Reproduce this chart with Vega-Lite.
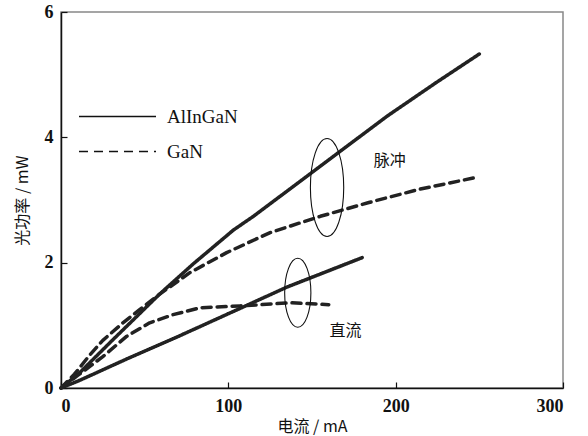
{
  "$schema": "https://vega.github.io/schema/vega-lite/v6.json",
  "width": 502,
  "height": 376,
  "autosize": "none",
  "padding": {"left": 61, "top": 12, "right": 25, "bottom": 48},
  "background": "white",
  "config": {
    "view": {"stroke": "#888", "strokeWidth": 1.5},
    "axis": {
      "grid": false,
      "domainColor": "#111",
      "domainWidth": 1.5,
      "tickColor": "#111",
      "tickWidth": 1.2,
      "tickSize": -6,
      "labelFont": "Liberation Serif",
      "labelFontSize": 18,
      "labelFontWeight": "bold",
      "labelColor": "#111",
      "titleFont": "Noto Sans CJK SC",
      "titleFontSize": 16,
      "titleFontWeight": "normal",
      "titleColor": "#111"
    }
  },
  "datasets": {
    "curves": [
      {"mode": "脉冲", "material": "AlInGaN", "I": 0, "P": 0},
      {"mode": "脉冲", "material": "AlInGaN", "I": 11, "P": 0.24},
      {"mode": "脉冲", "material": "AlInGaN", "I": 31, "P": 0.77},
      {"mode": "脉冲", "material": "AlInGaN", "I": 59, "P": 1.5},
      {"mode": "脉冲", "material": "AlInGaN", "I": 79, "P": 1.98},
      {"mode": "脉冲", "material": "AlInGaN", "I": 103, "P": 2.52},
      {"mode": "脉冲", "material": "AlInGaN", "I": 115, "P": 2.74},
      {"mode": "脉冲", "material": "AlInGaN", "I": 150, "P": 3.44},
      {"mode": "脉冲", "material": "AlInGaN", "I": 167, "P": 3.78},
      {"mode": "脉冲", "material": "AlInGaN", "I": 195, "P": 4.34},
      {"mode": "脉冲", "material": "AlInGaN", "I": 224, "P": 4.87},
      {"mode": "脉冲", "material": "AlInGaN", "I": 250, "P": 5.33},
      {"mode": "脉冲", "material": "GaN", "I": 0, "P": 0},
      {"mode": "脉冲", "material": "GaN", "I": 8, "P": 0.22},
      {"mode": "脉冲", "material": "GaN", "I": 17, "P": 0.52},
      {"mode": "脉冲", "material": "GaN", "I": 25, "P": 0.76},
      {"mode": "脉冲", "material": "GaN", "I": 37, "P": 1.04},
      {"mode": "脉冲", "material": "GaN", "I": 47, "P": 1.25},
      {"mode": "脉冲", "material": "GaN", "I": 57, "P": 1.46},
      {"mode": "脉冲", "material": "GaN", "I": 77, "P": 1.84},
      {"mode": "脉冲", "material": "GaN", "I": 99, "P": 2.16},
      {"mode": "脉冲", "material": "GaN", "I": 125, "P": 2.48},
      {"mode": "脉冲", "material": "GaN", "I": 155, "P": 2.74},
      {"mode": "脉冲", "material": "GaN", "I": 184, "P": 2.96},
      {"mode": "脉冲", "material": "GaN", "I": 214, "P": 3.17},
      {"mode": "脉冲", "material": "GaN", "I": 248, "P": 3.36},
      {"mode": "直流", "material": "AlInGaN", "I": 0, "P": 0},
      {"mode": "直流", "material": "AlInGaN", "I": 11, "P": 0.12},
      {"mode": "直流", "material": "AlInGaN", "I": 39, "P": 0.46},
      {"mode": "直流", "material": "AlInGaN", "I": 69, "P": 0.81},
      {"mode": "直流", "material": "AlInGaN", "I": 107, "P": 1.27},
      {"mode": "直流", "material": "AlInGaN", "I": 121, "P": 1.44},
      {"mode": "直流", "material": "AlInGaN", "I": 135, "P": 1.61},
      {"mode": "直流", "material": "AlInGaN", "I": 180, "P": 2.08},
      {"mode": "直流", "material": "GaN", "I": 0, "P": 0},
      {"mode": "直流", "material": "GaN", "I": 10, "P": 0.2},
      {"mode": "直流", "material": "GaN", "I": 25, "P": 0.5},
      {"mode": "直流", "material": "GaN", "I": 39, "P": 0.82},
      {"mode": "直流", "material": "GaN", "I": 53, "P": 1.04},
      {"mode": "直流", "material": "GaN", "I": 67, "P": 1.17},
      {"mode": "直流", "material": "GaN", "I": 83, "P": 1.28},
      {"mode": "直流", "material": "GaN", "I": 107, "P": 1.31},
      {"mode": "直流", "material": "GaN", "I": 137, "P": 1.36},
      {"mode": "直流", "material": "GaN", "I": 160, "P": 1.33}
    ]
  },
  "layer": [
    {
      "data": {"name": "curves"},
      "mark": {"type": "line", "stroke": "#222", "strokeWidth": 3.5, "strokeCap": "round", "strokeJoin": "round"},
      "encoding": {
        "x": {
          "field": "I", "type": "quantitative",
          "scale": {"domain": [0, 300], "nice": false},
          "axis": {"values": [0, 100, 200, 300], "format": "d", "title": "电流 / mA", "labelPadding": 15, "titlePadding": 3, "labelFont": "Liberation Serif", "labelFontWeight": "bold"}
        },
        "y": {
          "field": "P", "type": "quantitative",
          "scale": {"domain": [0, 6], "nice": false},
          "axis": {"values": [0, 2, 4, 6], "format": "d", "title": "光功率 / mW", "labelPadding": 14, "titlePadding": 14, "labelFont": "Liberation Serif", "labelFontWeight": "bold"}
        },
        "detail": {"field": "mode"},
        "strokeDash": {
          "field": "material", "type": "nominal",
          "scale": {"domain": ["AlInGaN", "GaN"], "range": [[1, 0], [9, 6]]},
          "legend": {
            "title": null,
            "orient": "none",
            "legendX": 40,
            "legendY": 88,
            "padding": 0,
            "symbolType": "M-2.5,0H2.5",
            "symbolSize": 949,
            "symbolStrokeWidth": 1.5,
            "symbolStrokeColor": "#111",
            "symbolDash": [6, 5],
            "rowPadding": 8,
            "labelOffset": 33,
            "labelFont": "Liberation Serif",
            "labelFontSize": 19,
            "labelColor": "#111"
          }
        }
      }
    },
    {
      "data": {"values": [{"I": 159, "P": 3.2}]},
      "mark": {"type": "point", "shape": "M0,-1A0.34,1,0,1,1,0,1A0.34,1,0,1,1,0,-1Z", "size": 9604, "filled": false, "stroke": "#111", "strokeWidth": 1.1, "opacity": 1},
      "encoding": {"x": {"field": "I", "type": "quantitative"}, "y": {"field": "P", "type": "quantitative"}}
    },
    {
      "data": {"values": [{"I": 141.5, "P": 1.52}]},
      "mark": {"type": "point", "shape": "M0,-1A0.38,1,0,1,1,0,1A0.38,1,0,1,1,0,-1Z", "size": 4761, "filled": false, "stroke": "#111", "strokeWidth": 1.1, "opacity": 1},
      "encoding": {"x": {"field": "I", "type": "quantitative"}, "y": {"field": "P", "type": "quantitative"}}
    },
    {
      "data": {"values": [{"I": 196.4, "P": 3.63, "label": "脉冲"}, {"I": 170, "P": 0.91, "label": "直流"}]},
      "mark": {"type": "text", "font": "Noto Sans CJK SC", "fontSize": 16, "color": "#111", "align": "center", "baseline": "middle"},
      "encoding": {"x": {"field": "I", "type": "quantitative"}, "y": {"field": "P", "type": "quantitative"}, "text": {"field": "label"}}
    }
  ]
}
